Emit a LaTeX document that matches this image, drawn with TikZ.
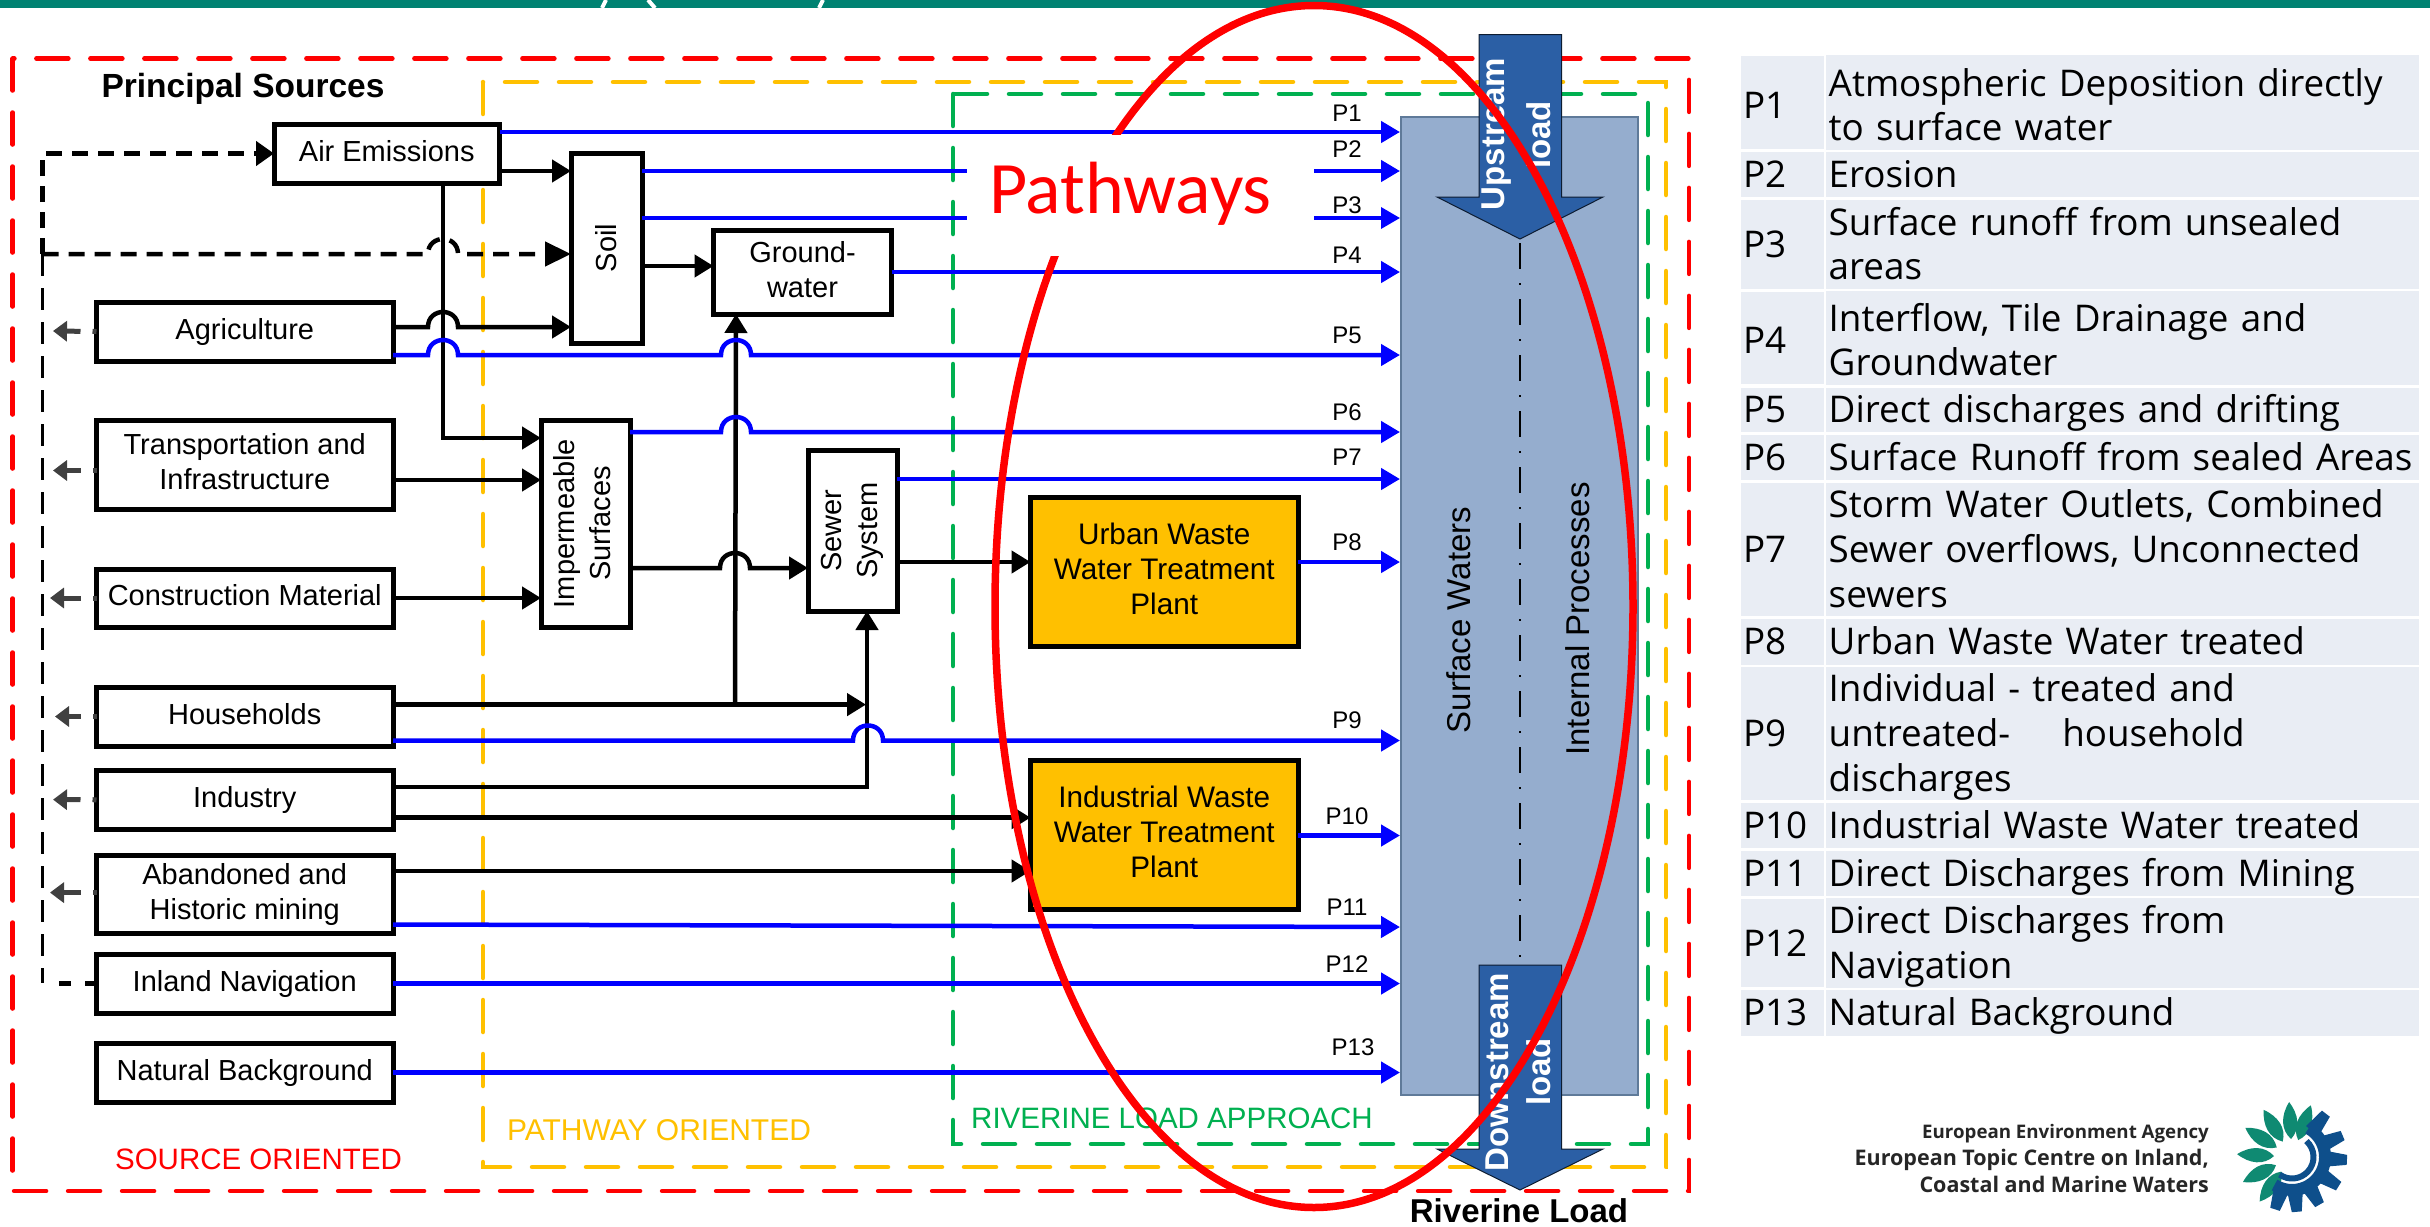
\documentclass[tikz,border=0pt]{standalone}
\usepackage{fontspec}
\setmainfont{Liberation Sans}
\newfontfamily\osans{Open Sans}
\newfontfamily\carl{Carlito}
\usetikzlibrary{arrows.meta,calc}
\definecolor{barteal}{HTML}{008272}
\definecolor{dashyellow}{HTML}{FFC000}
\definecolor{dashgreen}{HTML}{00B050}
\definecolor{water}{HTML}{95ADCE}
\definecolor{waterline}{HTML}{5F7A99}
\definecolor{loadblue}{HTML}{2B5FA5}
\definecolor{plant}{HTML}{FFC000}
\definecolor{rowfill}{HTML}{E9EDF4}
\definecolor{logoteal}{HTML}{0F8A72}
\definecolor{logoblue}{HTML}{0E4F8B}
\definecolor{stub}{HTML}{404040}
\newcommand{\fsz}[2]{\fontsize{#1}{#2}\selectfont}
\newcommand{\bstr}{\rule[-9.7pt]{0pt}{35pt}}
\newcommand{\tstr}{\rule[-9.25pt]{0pt}{44.5pt}}
% horizontal jump over a vertical line at x=#1, on a line at y=#2
\newcommand{\jmp}[2]{-- (#1-15,#2) .. controls (#1-15,#2-20) and (#1+15,#2-20) .. (#1+15,#2)}
\tikzset{
  x=1pt,y=-1pt,
  rbox/.style={draw=black,line width=5pt,fill=white,inner sep=0pt,outer sep=0pt,align=center,font=\fsz{29}{36}},
  srcbox/.style={rbox,execute at begin node=\bstr,execute at end node=\bstr,font=\fsz{29}{35}},
  mbox/.style={rbox,font=\fsz{29}{35}},
  plantbox/.style={mbox,fill=plant,font=\fsz{29.7}{35}},
  region/.style={line width=4.5pt,line cap=round,dash pattern=on 32pt off 22pt},
  pw/.style={blue,line width=4.5pt,-{Triangle[length=19pt,width=21pt]}},
  bk/.style={black,line width=4.5pt,-{Triangle[length=19pt,width=22pt]}},
  dsh/.style={black,line width=4.5pt,dash pattern=on 16pt off 10pt},
  dshthin/.style={black,line width=3.5pt,dash pattern=on 22pt off 12pt},
  gstub/.style={stub,line width=5pt,dash pattern=on 4pt off 12pt on 40pt,-{Triangle[length=14pt,width=20pt]}},
  plab/.style={font=\fsz{24}{24},inner sep=0pt},
  vtext/.style={rotate=90,inner sep=0pt,font=\fsz{33}{33}},
  loadtext/.style={rotate=90,inner sep=0pt,text=white,font=\bfseries\fsz{33}{33}},
  cella/.style={fill=rowfill,inner sep=0pt,outer sep=0pt,minimum width=83pt,text width=79pt,align=left,font=\osans\fsz{36.8}{44.6}},
  cellb/.style={fill=rowfill,inner sep=0pt,outer sep=0pt,minimum width=592.6pt,text width=588pt,align=left,font=\osans\fsz{36.8}{44.6}},
}
\newcommand{\trow}[5]{% id, y1, y2, Pn, text
  \pgfmathsetmacro{\rc}{(#2+#3)/2}\pgfmathsetmacro{\rh}{#3-#2}
  \node[cella,minimum height=\rh pt] (ra#1) at (1782.5,\rc) {\tstr #4\tstr};
  \node[cellb,minimum height=\rh pt] (rb#1) at (2122.7,\rc) {\tstr #5\tstr};
}
\begin{document}
\begin{tikzpicture}
\useasboundingbox (0,0) rectangle (2430,1226);
% top bar
\fill[barteal] (0,0) rectangle (2430,8);
\draw[white,line width=4pt] (606,0) -- (602,8);
\draw[white,line width=4pt] (648,0) -- (655,8);
\draw[white,line width=4pt] (823,0) -- (819,8);
% regions
\draw[region,red] (12.6,58.5) rectangle (1689,1191);
\draw[region,dashyellow] (483,82) rectangle (1666,1167);
\draw[region,dashgreen] (953,94) rectangle (1648,1144);
% surface water column
\node[draw=waterline,line width=2pt,fill=water,minimum width=237pt,minimum height=978pt,inner sep=0pt] (sw) at (1519.5,606) {};
\coordinate (divtop) at (1520,243);
\coordinate (divbot) at (1520,965);
\draw[black,line width=2.2pt,dash pattern=on 26pt off 14pt on 2pt off 14pt] (divtop) -- (divbot);
\node[vtext] (swt) at (1459,620) {Surface Waters};
\node[vtext] (ipt) at (1578,619) {Internal Processes};
% load arrows
\fill[loadblue,draw=black!70!loadblue,line width=1pt] (1479,34.5) -- (1561.5,34.5) -- (1561.5,197) -- (1603,197) -- (1520,239) -- (1437,197) -- (1479,197) -- cycle;
\fill[loadblue,draw=black!70!loadblue,line width=1pt] (1479,965) -- (1561.5,965) -- (1561.5,1149) -- (1603,1149) -- (1520,1190) -- (1437,1149) -- (1479,1149) -- cycle;
\node[loadtext] (up1) at (1497,134) {Upstream};
\node[loadtext] (up2) at (1539,135) {load};
\node[loadtext] (dn1) at (1497,1072) {Downstream};
\node[loadtext] (dn2) at (1539,1072) {load};
% source boxes
\node[srcbox,minimum width=225.5pt,minimum height=59pt] (air) at (386.75,153.5) {Air Emissions};
\node[srcbox,minimum width=296.5pt,minimum height=59pt] (agri) at (244.75,331.5) {Agriculture};
\node[mbox,minimum width=296.5pt,minimum height=89pt] (trans) at (244.75,464.5) {\bstr Transportation and\\Infrastructure\bstr};
\node[srcbox,minimum width=296.5pt,minimum height=58pt] (cons) at (244.75,598) {Construction Material};
\node[srcbox,minimum width=296.5pt,minimum height=59pt] (house) at (244.75,716.5) {Households};
\node[srcbox,minimum width=296.5pt,minimum height=59.5pt] (ind) at (244.75,799.75) {Industry};
\node[mbox,minimum width=296.5pt,minimum height=77.5pt] (mine) at (244.75,894.25) {\bstr Abandoned and\\Historic mining\bstr};
\node[srcbox,minimum width=296.5pt,minimum height=59pt] (nav) at (244.75,983.5) {Inland Navigation};
\node[srcbox,minimum width=296.5pt,minimum height=59pt] (nat) at (244.75,1072.5) {Natural Background};
% pathway boxes
\node[rbox,minimum width=71pt,minimum height=190pt] (soil) at (606.5,248) {\rotatebox{90}{Soil}};
\node[mbox,minimum width=178pt,minimum height=84pt] (gw) at (802.5,272) {\bstr Ground-\\water\bstr};
\node[rbox,minimum width=89pt,minimum height=207pt] (imp) at (585.5,523.5) {\rotatebox{90}{\begin{tabular}{@{}c@{}}Impermeable\\Surfaces\end{tabular}}};
\node[rbox,minimum width=89pt,minimum height=161pt] (sew) at (852.5,530.5) {\rotatebox{90}{\begin{tabular}{@{}c@{}}Sewer\\System\end{tabular}}};
\node[plantbox,minimum width=267.5pt,minimum height=149pt] (uw) at (1164.25,571.5) {\bstr Urban Waste\\Water Treatment\\Plant\bstr};
\node[plantbox,minimum width=267.5pt,minimum height=148.5pt] (iw) at (1164.25,834.75) {\bstr Industrial Waste\\Water Treatment\\Plant\bstr};
% black flows
\draw[bk] (air.east |- 0,171) -- (soil.west |- 0,171);
\draw[bk] (air.south -| 443,0) -- (443,438) -- (imp.west |- 0,438);
\draw[bk] (soil.east |- 0,266) -- (gw.west |- 0,266);
\draw[bk] (agri.east |- 0,327) \jmp{443}{327} -- (soil.west |- 0,327);
\draw[bk] (trans.east |- 0,480) -- (imp.west |- 0,480);
\draw[bk] (cons.east) -- (imp.west |- cons.east);
\draw[bk] (imp.east |- 0,568) \jmp{735}{568} -- (sew.west |- 0,568);
\draw[bk] (sew.east |- 0,562) -- (uw.west |- 0,562);
\coordinate (hbranch) at (735,704.6);
\draw[bk] (hbranch) -- (gw.south -| 736,0);
\draw[bk] (house.east |- hbranch) -- (866,704.6);
\draw[bk] (ind.east |- 0,787) -- (867,787) -- (sew.south -| 867,0);
\draw[bk] (ind.east |- 0,817.6) -- (iw.west |- 0,817.6);
\draw[bk] (mine.east |- 0,871) -- (iw.west |- 0,871);
% blue flows
\draw[pw] (air.east |- 0,132) -- (sw.west |- 0,132);
\draw[pw] (soil.east |- 0,171) -- (sw.west |- 0,171);
\draw[pw,line width=3.5pt] (soil.east |- 0,218) -- (sw.west |- 0,218);
\draw[pw] (gw.east) -- (sw.west |- gw.east);
\draw[pw] (agri.east |- 0,355) \jmp{443}{355} \jmp{736}{355} -- (sw.west |- 0,355);
\draw[pw] (imp.east |- 0,432) \jmp{736}{432} -- (sw.west |- 0,432);
\draw[pw] (sew.east |- 0,479) -- (sw.west |- 0,479);
\draw[pw] (uw.east |- 0,562) -- (sw.west |- 0,562);
\draw[pw] (house.east |- 0,740.5) \jmp{868}{740.5} -- (sw.west |- 0,740.5);
\draw[pw] (iw.east |- 0,835.5) -- (sw.west |- 0,835.5);
\draw[pw] (mine.east |- 0,924.5) -- (sw.west |- 0,927);
\draw[pw] (nav.east) -- (sw.west |- nav.east);
\draw[pw] (nat.east) -- (sw.west |- nat.east);
% dashed feedback
\coordinate (dtop) at (42.5,153.5);
\coordinate (dmid) at (42.5,254);
\coordinate (dbot) at (42.5,983);
\coordinate (navstub) at (54,983.5);
\draw[dsh,-{Triangle[length=18pt,width=24pt]}] (dmid) -- (dtop) -- (air.west);
\draw[dsh,-{Triangle[length=26pt,width=24pt]}] (dmid) \jmp{443}{254} -- (soil.west |- dmid);
\draw[dshthin] (dmid) -- (dbot);
\draw[dsh,dash pattern=on 12pt off 14pt] (nav.west) -- (navstub);
\draw[gstub] (agri.west) -- (53,331);
\draw[gstub] (trans.west |- 0,470.5) -- (53,470.5);
\draw[gstub] (cons.west) -- (50,598);
\draw[gstub] (house.west) -- (55,716.5);
\draw[gstub] (ind.west) -- (53,799.6);
\draw[gstub] (mine.west |- 0,892.6) -- (50,892.6);
% flow labels
\node[plab] (l1) at (1347,113.5) {P1};
\node[plab] (l2) at (1347,149) {P2};
\node[plab] (l3) at (1347,205) {P3};
\node[plab] (l4) at (1347,255) {P4};
\node[plab] (l5) at (1347,335) {P5};
\node[plab] (l6) at (1347,412) {P6};
\node[plab] (l7) at (1347,457) {P7};
\node[plab] (l8) at (1347,542.5) {P8};
\node[plab] (l9) at (1347,720.5) {P9};
\node[plab] (l10) at (1347,816) {P10};
\node[plab] (l11) at (1347,907) {P11};
\node[plab] (l12) at (1347,964) {P12};
\node[plab] (l13) at (1353,1047) {P13};
% captions
\node[anchor=base,inner sep=0pt,font=\bfseries\fsz{33.5}{33}] (princ) at (243,97) {Principal Sources};
\node[inner sep=0pt,text=red,font=\fsz{29.5}{30}] (so) at (258.5,1159) {SOURCE ORIENTED};
\node[inner sep=0pt,text=dashyellow,font=\fsz{30}{30}] (po) at (659,1130) {PATHWAY ORIENTED};
\node[inner sep=0pt,text=dashgreen,font=\fsz{29.5}{30}] (ro) at (1172,1118) {RIVERINE LOAD APPROACH};
\node[inner sep=0pt,font=\bfseries\fsz{33}{33}] (rl) at (1519,1211) {Riverine Load};
% big red ellipse and the Pathways label
\draw[red,line width=7.5pt] (1314,606.5) ellipse [x radius=319,y radius=601];
\fill[white] (967,135) rectangle (1314,256);
\node[anchor=base,inner sep=0pt,text=red,font=\carl\fsz{74}{74}] (pw) at (1130.5,213.5) {Pathways};
% table
\trow{1}{56}{149}{\rule{0pt}{41pt}P1}{\rule{0pt}{41pt}Atmospheric Deposition directly\\to surface water}
\trow{2}{152}{197}{P2}{Erosion}
\trow{3}{200}{289}{P3}{Surface runoff from unsealed\\areas}
\trow{4}{292}{384}{\rule{0pt}{40pt}P4}{\rule{0pt}{40pt}Interflow, Tile Drainage and\\Groundwater}
\trow{5}{387.5}{432}{P5}{Direct discharges and drifting}
\trow{6}{435}{480}{P6}{Surface Runoff from sealed Areas}
\trow{7}{483}{616}{P7}{Storm Water Outlets, Combined\\Sewer overflows, Unconnected\\sewers}
\trow{8}{619}{664.5}{P8}{Urban Waste Water treated}
\trow{9}{667}{800}{P9}{Individual - treated and\\untreated-\hspace{52pt}household\\discharges}
\trow{10}{803}{848}{P10}{Industrial Waste Water treated}
\trow{11}{851}{896}{P11}{Direct Discharges from Mining}
\trow{12}{899}{987}{P12}{Direct Discharges from\\Navigation}
\trow{13}{990}{1035.5}{P13}{Natural Background}
% logo text
\node[anchor=east,inner sep=0pt,align=right,text=black!85,font=\osans\bfseries\fsz{21.5}{27}] (eea) at (2209,1158.5) {{\fsz{18.7}{27}\selectfont European Environment Agency}\\European Topic Centre on Inland,\\Coastal and Marine Waters};
% logo
\begin{scope}[shift={(2292,1157)},y=1pt]
\foreach \a in {70,93,121,148,177,207,234}
  \fill[logoteal,rotate=\a] (18,0) .. controls (28,10) and (42,9) .. (55,0) .. controls (42,-9) and (28,-10) .. (18,0) -- cycle;
\draw[logoblue,line width=12pt] (60:33) arc (60:-122:33);
\foreach \a in {52,23,-3,-32,-60,-85,-108}
  \fill[logoblue,rotate=\a] (33,-8) -- (55,-5) -- (55,5) -- (33,8) -- cycle;
\draw[logoblue,line width=6pt] (48:21.5) arc (48:-125:21.5);
\end{scope}
\end{tikzpicture}
\end{document}
